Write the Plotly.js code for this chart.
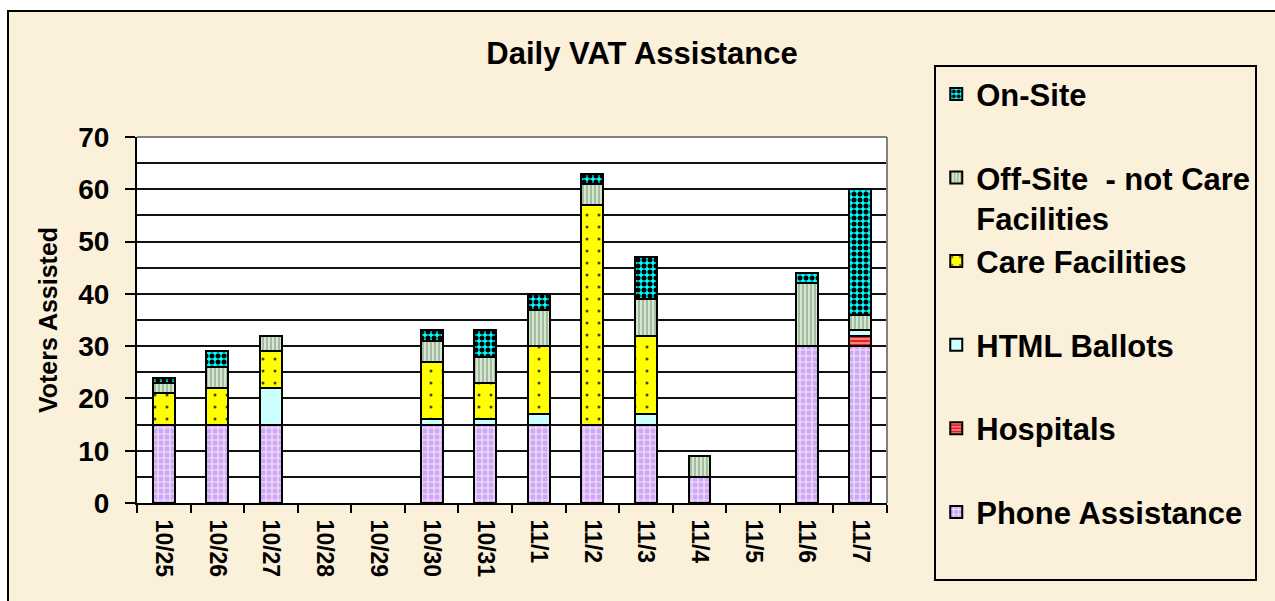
<!DOCTYPE html>
<html>
<head>
<meta charset="utf-8">
<script src="https://cdn.plot.ly/plotly-3.0.1.min.js"></script>
<style>
  html, body { margin: 0; padding: 0; background: #ffffff; width: 1275px; height: 601px; overflow: hidden; }
  #wrap { position: absolute; left: 7px; top: 10px; border-left: 2px solid #000; border-top: 2px solid #000; width: 1266px; height: 589px; background: #FBF0D9; }
  #chart { width: 1266px; height: 589px; }
</style>
</head>
<body>
<div id="wrap"><div id="chart"></div></div>
<script>
// ---- data ----
const dates = ['10/25','10/26','10/27','10/28','10/29','10/30','10/31','11/1','11/2','11/3','11/4','11/5','11/6','11/7'];
const phoneAssistance = [15,15,15,0,0,15,15,15,15,15,5,0,30,30];
const hospitals       = [0,0,0,0,0,0,0,0,0,0,0,0,0,2];
const htmlBallots     = [0,0,7,0,0,1,1,2,0,2,0,0,0,1];
const careFacilities  = [6,7,7,0,0,11,7,13,42,15,0,0,0,0];
const offSite         = [2,4,3,0,0,4,5,7,4,7,4,0,12,3];
const onSite          = [1,3,0,0,0,2,5,3,2,8,0,0,2,24];
const seriesNames = ['Phone Assistance','Hospitals','HTML Ballots','Care Facilities','Off-Site &nbsp;- not Care<br>Facilities','On-Site'];

const FONT = '"Liberation Sans", Arial, sans-serif';
const outline = {color: '#000000', width: 2};

function mk(name, y, rank, color, pattern) {
  return {
    type: 'bar', x: dates,
    y: y.map(v => (v === 0 ? null : v)),
    name: name, legendgroup: 'g' + rank, legendrank: rank,
    marker: {color: color, line: outline, pattern: pattern}
  };
}

const traces = [
  mk(seriesNames[0] + '<br> ', phoneAssistance, 6, '#D6B8F4',
     {shape: '+', fgcolor: '#F2E6FF', bgcolor: '#CFA8F2', size: 6, solidity: 0.35, fillmode: 'replace'}),
  mk(seriesNames[1] + '<br> ', hospitals, 5, '#FF3030',
     {shape: '-', fgcolor: '#FF9A9A', bgcolor: '#E82020', size: 4, solidity: 0.4, fillmode: 'replace'}),
  mk(seriesNames[2] + '<br> ', htmlBallots, 4, '#CCFFFF', {shape: ''}),
  mk(seriesNames[3] + '<br> ', careFacilities, 3, '#FFFF00',
     {shape: '.', fgcolor: '#404040', bgcolor: '#FFFF00', size: 12, solidity: 0.05, fillmode: 'replace'}),
  mk(seriesNames[4], offSite, 2, '#C8DFC4',
     {shape: '|', fgcolor: '#8FA88C', bgcolor: '#D4E8D0', size: 4, solidity: 0.35, fillmode: 'replace'}),
  mk(seriesNames[5] + '<br> ', onSite, 1, '#00FFFF',
     {shape: '.', fgcolor: '#000000', bgcolor: '#00FFFF', size: 6, solidity: 0.55, fillmode: 'replace'})
];

const layout = {
  width: 1266, height: 589,
  paper_bgcolor: '#FBF0D9',
  plot_bgcolor: '#FFFFFF',
  barmode: 'stack',
  bargap: 0.59,
  margin: {l: 128, r: 388, t: 125, b: 98},
  font: {family: FONT, color: '#000000', weight: 'bold'},
  title: {
    text: 'Daily VAT Assistance',
    font: {family: FONT, size: 31, weight: 'bold', color: '#000'},
    x: 0.5, xref: 'container', xanchor: 'center',
    y: 0.930, yref: 'container', yanchor: 'middle'
  },
  xaxis: {
    type: 'category',
    tickangle: 90,
    tickson: 'boundaries',
    ticks: 'outside', ticklen: 8, tickwidth: 2, tickcolor: '#000',
    showline: true, linecolor: '#000', linewidth: 2,
    showgrid: false, zeroline: false,
    tickfont: {family: FONT, size: 23, weight: 'bold', color: '#000'},
    ticklabelstandoff: 10,
    fixedrange: true
  },
  yaxis: {
    range: [0, 70], dtick: 10, tick0: 0,
    ticks: 'outside', ticklen: 10, tickwidth: 2, tickcolor: '#000',
    showline: true, linecolor: '#000', linewidth: 2,
    showgrid: true, gridcolor: '#111', gridwidth: 2,
    minor: {dtick: 5, showgrid: true, gridcolor: '#111', gridwidth: 2, ticks: ''},
    zeroline: false,
    tickfont: {family: FONT, size: 28, weight: 'bold', color: '#000'},
    ticklabelstandoff: 10,
    title: {text: 'Voters Assisted', font: {family: FONT, size: 25, weight: 'bold', color: '#000'}, standoff: 13},
    fixedrange: true
  },
  legend: {
    x: 1.063, xanchor: 'left', xref: 'paper',
    y: 1.196, yanchor: 'top', yref: 'paper',
    bgcolor: 'rgba(0,0,0,0)',
    bordercolor: '#000', borderwidth: 2,
    font: {family: FONT, size: 31, weight: 'bold', color: '#000'},
    traceorder: 'grouped',
    tracegroupgap: 0,
    valign: 'top',
    maxheight: 560
  },
  shapes: [
    {type: 'line', xref: 'paper', yref: 'paper', x0: 0, x1: 1, y0: 1, y1: 1, line: {color: '#808080', width: 2}, layer: 'above'},
    {type: 'line', xref: 'paper', yref: 'paper', x0: 1, x1: 1, y0: 0, y1: 1, line: {color: '#808080', width: 2}, layer: 'above'}
  ]
};

Plotly.newPlot('chart', traces, layout, {displayModeBar: false, staticPlot: true});
</script>
</body>
</html>
